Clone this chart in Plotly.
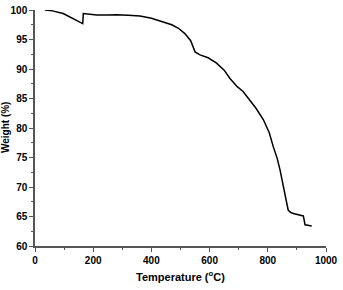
import plotly.graph_objects as go

temperature = [34, 60, 97, 130, 164, 166, 190, 212, 250, 281, 320, 361, 400, 441, 470, 493, 515, 535, 550, 567, 595, 624, 650, 670, 695, 715, 739, 760, 785, 805, 819, 832, 842, 851, 859, 865, 870, 878, 888, 905, 922, 923, 928, 951]
weight = [100.0, 99.85, 99.4, 98.6, 97.7, 99.4, 99.25, 99.15, 99.15, 99.2, 99.1, 99.0, 98.6, 98.0, 97.5, 96.9, 96.0, 94.8, 92.9, 92.4, 91.9, 91.0, 89.8, 88.4, 87.0, 86.2, 84.7, 83.3, 81.4, 79.2, 76.8, 74.9, 72.9, 70.6, 68.4, 67.0, 66.1, 65.7, 65.5, 65.3, 65.1, 64.9, 63.6, 63.4]

x_ticks = [0, 200, 400, 600, 800, 1000]
y_ticks = [60, 65, 70, 75, 80, 85, 90, 95, 100]

fig = go.Figure(go.Scatter(x=temperature, y=weight, mode="lines",
                           line=dict(color="black", width=1.5), showlegend=False))

tfont = dict(family="Liberation Sans, Arial", size=10, color="black", weight="bold")
axis_common = dict(showline=True, linecolor="#555", linewidth=1.5, showgrid=False,
                   zeroline=False, ticks="outside", ticklen=4, tickwidth=1.2, tickcolor="#555",
                   tickfont=tfont, mirror=False, automargin=False)
fig.update_xaxes(range=[0, 1000], tickvals=x_ticks,
                 minor=dict(dtick=100, ticks="outside", ticklen=2, tickwidth=1, tickcolor="#555"),
                 **axis_common)
fig.update_yaxes(range=[60, 100], tickvals=y_ticks,
                 minor=dict(dtick=2.5, ticks="outside", ticklen=2, tickwidth=1, tickcolor="#555"),
                 **axis_common)
title_font = dict(family="Liberation Sans, Arial", size=11, color="black", weight="bold")
fig.add_annotation(text="Temperature (<sup>o</sup>C)", xref="paper", yref="paper",
                   x=0.5, y=-0.125, xanchor="center", yanchor="middle",
                   showarrow=False, font=title_font)
fig.add_annotation(text="Weight (%)", xref="paper", yref="paper",
                   x=-0.103, y=0.5, xanchor="center", yanchor="middle", textangle=-90,
                   showarrow=False, font=dict(family="Liberation Sans, Arial", size=10, color="black", weight="bold"))
fig.update_layout(width=343, height=290, margin=dict(l=35, r=17, t=10, b=44),
                  plot_bgcolor="white", paper_bgcolor="white",
                  font=dict(family="Liberation Sans, Arial", size=10, color="black"))
fig.write_html("out.html")
